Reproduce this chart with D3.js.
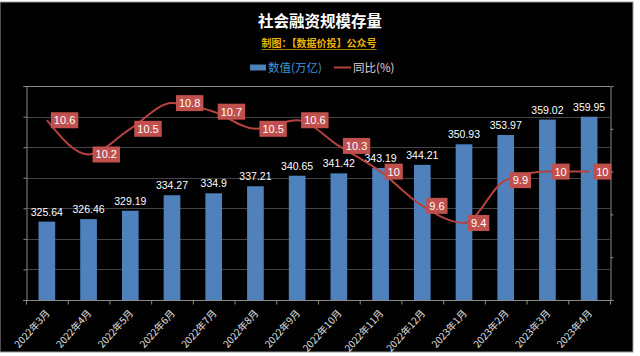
<!DOCTYPE html>
<html><head><meta charset="utf-8">
<script src="https://cdn.jsdelivr.net/npm/d3@7/dist/d3.min.js"></script>
<style>html,body{margin:0;padding:0;background:#fff;}svg{display:block;}</style>
</head><body>
<script>
const categories = ["2022年3月","2022年4月","2022年5月","2022年6月","2022年7月","2022年8月","2022年9月","2022年10月","2022年11月","2022年12月","2023年1月","2023年2月","2023年3月","2023年4月"];
const stockValues = [325.64,326.46,329.19,334.27,334.9,337.21,340.65,341.42,343.19,344.21,350.93,353.97,359.02,359.95];
const yoyValues = [10.6,10.2,10.5,10.8,10.7,10.5,10.6,10.3,10,9.6,9.4,9.9,10,10];
const leftTicks = [300,310,320,330,340,350,360,370];
const rightTicks = [8.5,9,9.5,10,10.5,11];
const title = "社会融资规模存量";
const subtitle = "制图：【数据价投】公众号";
const legendBar = "数值(万亿)";
const legendLine = "同比(%)";

const W = 640, H = 356;
const svg = d3.select("body").append("svg").attr("width", W).attr("height", H);
svg.append("rect").attr("width", W).attr("height", H).attr("fill", "#ffffff");
svg.append("rect").attr("x", 0).attr("y", 2).attr("width", 633).attr("height", 350)
  .attr("fill", "#000").attr("stroke", "#9a9a9a").attr("stroke-width", 1);

const plot = {l: 26, r: 610, t: 86, b: 300};
const x = d3.scaleBand().domain(categories).range([plot.l, plot.r]).paddingInner(0.6).paddingOuter(0.3);
const yL = d3.scaleLinear().domain([300, 370]).range([plot.b, plot.t]);
const yR = d3.scaleLinear().domain([8.5, 11]).range([plot.b, plot.t]);

// gridlines
svg.append("g").selectAll("line").data(leftTicks.slice(1)).join("line")
  .attr("x1", plot.l).attr("x2", plot.r)
  .attr("y1", d => Math.round(yL(d)) + 0.5).attr("y2", d => Math.round(yL(d)) + 0.5)
  .attr("stroke", d => d === 370 ? "#8a8a8a" : "#444").attr("stroke-width", 1);

// left axis (no labels)
const gL = svg.append("g").attr("transform", `translate(${plot.l + 0.5},0)`)
  .call(d3.axisLeft(yL).tickValues(leftTicks).tickSize(3).tickFormat(""));
gL.selectAll("path,line").attr("stroke", "#8a8a8a");
// right axis (no labels)
const gR = svg.append("g").attr("transform", `translate(${plot.r + 0.5},0)`)
  .call(d3.axisRight(yR).tickValues(rightTicks).tickSize(3).tickFormat(""));
gR.selectAll("path,line").attr("stroke", "#8a8a8a");

// bars
svg.append("g").selectAll("rect").data(stockValues).join("rect")
  .attr("x", (d, i) => x(categories[i])).attr("width", x.bandwidth())
  .attr("y", d => yL(d)).attr("height", d => plot.b - yL(d))
  .attr("fill", "#4f81bd");

// x axis with ticks at category boundaries
const gx = svg.append("g").attr("transform", `translate(0,${plot.b + 0.5})`);
gx.append("line").attr("x1", plot.l - 3).attr("x2", plot.r + 3).attr("stroke", "#8a8a8a");
const step = x.step();
gx.selectAll("line.tk").data(d3.range(categories.length + 1)).join("line").attr("class", "tk")
  .attr("x1", i => plot.l + i * step + 0.5).attr("x2", i => plot.l + i * step + 0.5)
  .attr("y1", 0).attr("y2", 4).attr("stroke", "#8a8a8a");
gx.selectAll("text").data(categories).join("text")
  .attr("transform", d => `translate(${x(d) + x.bandwidth() / 2 + 1},${11}) rotate(-48)`)
  .attr("text-anchor", "end").attr("dy", "0.35em")
  .attr("font-family", "'Noto Sans CJK SC', sans-serif").attr("font-size", 9.8)
  .attr("fill", "#e0e0e0").text(d => d);

// bar labels
svg.append("g").selectAll("text").data(stockValues).join("text")
  .attr("x", (d, i) => x(categories[i]) + x.bandwidth() / 2)
  .attr("y", d => yL(d) - 6)
  .attr("text-anchor", "middle")
  .attr("font-family", "'Liberation Sans', Arial, sans-serif").attr("font-size", 10.5)
  .attr("fill", "#ffffff").text(d => d);

// line
const cx = i => x(categories[i]) + x.bandwidth() / 2;
const line = d3.line().x((d, i) => cx(i)).y(d => yR(d)).curve(d3.curveMonotoneX);
svg.append("path").datum(yoyValues).attr("d", line)
  .attr("fill", "none").attr("stroke", "#b5423f").attr("stroke-width", 2);

// line labels
const lg = svg.append("g").selectAll("g").data(yoyValues).join("g")
  .attr("transform", (d, i) => `translate(${cx(i) + 4},${yR(d)})`);
lg.each(function(d) {
  const g = d3.select(this);
  const t = g.append("text").attr("x", 3).attr("y", 0).attr("dy", "0.36em")
    .attr("font-family", "'Liberation Sans', Arial, sans-serif").attr("font-size", 11)
    .attr("fill", "#ffffff").text(d);
  const w = t.node().getComputedTextLength();
  g.insert("rect", "text").attr("x", 0).attr("y", -8).attr("width", w + 6).attr("height", 16)
    .attr("fill", "#c0504d");
});

// title
svg.append("text").attr("x", 320).attr("y", 27).attr("text-anchor", "middle")
  .attr("font-family", "'Noto Sans CJK SC', sans-serif").attr("font-size", 15.5).attr("font-weight", "bold")
  .attr("fill", "#ffffff").text(title);
const st = svg.append("text").attr("x", 319).attr("y", 47).attr("text-anchor", "middle")
  .attr("font-family", "'Noto Sans CJK SC', sans-serif").attr("font-size", 10).attr("font-weight", "bold")
  .attr("fill", "#f0b400").text(subtitle);
const sw = st.node().getComputedTextLength();
svg.append("line").attr("x1", 319 - sw / 2).attr("x2", 319 + sw / 2).attr("y1", 49.5).attr("y2", 49.5)
  .attr("stroke", "#a87a00").attr("stroke-width", 1);

// legend
svg.append("rect").attr("x", 250).attr("y", 64.5).attr("width", 16).attr("height", 6).attr("fill", "#4f81bd");
svg.append("text").attr("x", 268).attr("y", 71.5)
  .attr("font-family", "'Noto Sans CJK SC', sans-serif").attr("font-size", 11.5)
  .attr("fill", "#3d9ad8").text(legendBar);
svg.append("line").attr("x1", 334).attr("x2", 351).attr("y1", 67.5).attr("y2", 67.5)
  .attr("stroke", "#b5423f").attr("stroke-width", 2);
svg.append("text").attr("x", 353).attr("y", 71.5)
  .attr("font-family", "'Noto Sans CJK SC', sans-serif").attr("font-size", 11.5)
  .attr("fill", "#e8cfcf").text(legendLine);
</script>
</body></html>
